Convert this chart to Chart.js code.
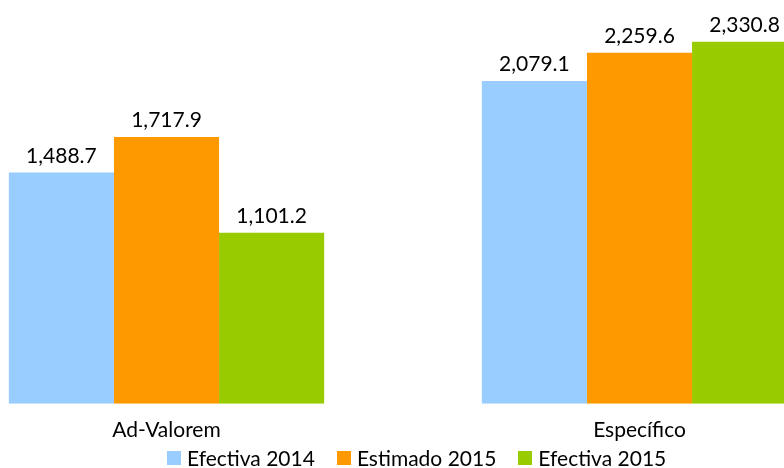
<!DOCTYPE html>
<html>
<head>
<meta charset="utf-8">
<title>Recaudación</title>
<script src="https://cdn.jsdelivr.net/npm/chart.js@4.4.1/dist/chart.umd.min.js"></script>
<style>
  html, body { margin: 0; padding: 0; background: #fff; }
  #wrap { position: relative; width: 784px; height: 468px; overflow: hidden; }
  #chart-bar { position: absolute; left: -70px; top: 0; }
  #chart-legend {
    position: absolute; left: 167px; top: 446px; height: 24px;
    display: flex; align-items: center; gap: 22px;
    font: 21px Lato, sans-serif; line-height: 24px; color: #000; white-space: nowrap;
  }
  #chart-legend .item { display: flex; align-items: center; gap: 6px; }
  #chart-legend .box { width: 14px; height: 14px; flex-shrink: 0; }
</style>
</head>
<body>
<div id="wrap">
  <canvas id="chart-bar" width="946" height="468"></canvas>
  <div id="chart-legend"></div>
</div>
<script>
const categories   = ['Ad-Valorem', 'Específico'];
const seriesNames  = ['Efectiva 2014', 'Estimado 2015', 'Efectiva 2015'];
const efectiva2014 = [1488.7, 2079.1];
const estimado2015 = [1717.9, 2259.6];
const efectiva2015 = [1101.2, 2330.8];
const colors       = ['#99CCFF', '#FF9900', '#99CC00'];

const FONT = 'Lato, sans-serif';
const fmt = new Intl.NumberFormat('en-US', { minimumFractionDigits: 1, maximumFractionDigits: 1 });

// value printed above each bar
const valueLabels = {
  id: 'valueLabels',
  afterDatasetsDraw(chart) {
    const ctx = chart.ctx;
    ctx.save();
    ctx.font = '21px ' + FONT;
    ctx.fillStyle = '#000';
    ctx.textAlign = 'center';
    ctx.textBaseline = 'alphabetic';
    chart.data.datasets.forEach((ds, i) => {
      chart.getDatasetMeta(i).data.forEach((bar, j) => {
        ctx.fillText(fmt.format(ds.data[j]), bar.x, bar.y - 10);
      });
    });
    ctx.restore();
  }
};

const series = [efectiva2014, estimado2015, efectiva2015];

new Chart(document.getElementById('chart-bar'), {
  type: 'bar',
  data: {
    labels: categories,
    datasets: series.map((data, i) => ({
      label: seriesNames[i],
      data,
      backgroundColor: colors[i],
      borderWidth: 0,
      categoryPercentage: 2 / 3,
      barPercentage: 1
    }))
  },
  options: {
    responsive: false,
    animation: false,
    layout: { padding: { top: 0, right: 0, bottom: 11, left: 0 } },
    plugins: {
      legend: { display: false },
      tooltip: { enabled: false }
    },
    scales: {
      x: {
        grid: { display: false, drawTicks: false },
        border: { display: false },
        ticks: { color: '#000', padding: 14, font: { family: FONT, size: 21 } }
      },
      y: {
        display: false,
        min: 0,
        max: 2600
      }
    }
  },
  plugins: [valueLabels]
});

// legend under the chart
document.getElementById('chart-legend').innerHTML = seriesNames.map((s, i) => `
  <div class="item"><div class="box" style="background:${colors[i]}"></div><span>${s}</span></div>`).join('');
</script>
</body>
</html>
